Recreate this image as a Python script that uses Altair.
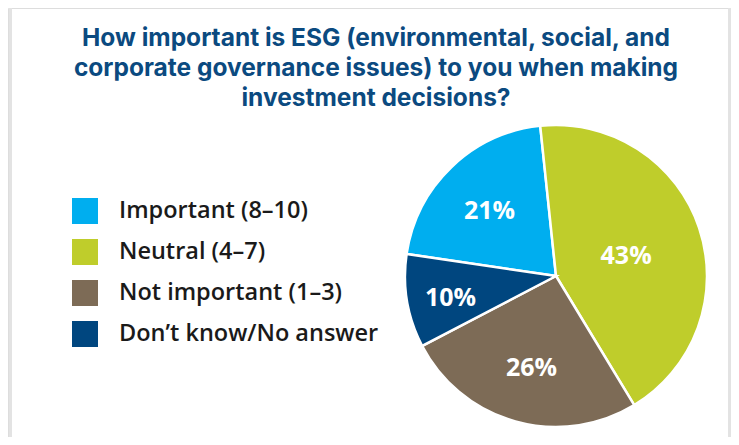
import math
import altair as alt
import pandas as pd

# ---- data ----
categories = ["Important (8–10)", "Neutral (4–7)", "Not important (1–3)", "Don’t know/No answer"]
values = [21, 43, 26, 10]
pie_order = [4, 1, 2, 3]          # clockwise order of the slices, starting near 12 o'clock
colors = ["#00aeef", "#bfcd2b", "#7d6b56", "#00467f"]
title_lines = [
    "How important is ESG (environmental, social, and",
    "corporate governance issues) to you when making",
    "investment decisions?",
]

df = pd.DataFrame({
    "category": categories,
    "value": values,
    "pie_order": pie_order,
    "label": [f"{v}%" for v in values],
})

W, H = 723, 429
CX, CY = 548, 268
R = 151
start = -6 * math.pi / 180

theta = alt.Theta("value:Q", stack=True, scale=alt.Scale(range=[start, start + 2 * math.pi]))
order = alt.Order("pie_order:Q", sort="ascending")

pie = alt.Chart(df).mark_arc(outerRadius=R, stroke="white", strokeWidth=2.5).encode(
    theta=theta,
    order=order,
    x=alt.value(CX),
    y=alt.value(CY),
    color=alt.Color(
        "category:N",
        scale=alt.Scale(domain=categories, range=colors),
        legend=alt.Legend(
            orient="none", legendX=64, legendY=190, title=None,
            symbolType="square", symbolSize=676, symbolStrokeWidth=0, symbolOpacity=1,
            labelFontSize=23.5, labelFont="Open Sans", labelFontWeight=600,
            labelColor="#1a1a1a", labelOffset=21, rowPadding=15, padding=0,
            labelLimit=400,
        ),
    ),
)

# larger slices carry their label closer to the centre, as in the reference
labels = alt.Chart(df).mark_text(
    font="Open Sans", fontSize=25, fontWeight="bold", color="white",
    align="center", baseline="middle", dy=4,
).encode(
    theta=theta,
    order=order,
    radius=alt.Radius("value:Q", scale=alt.Scale(type="linear", domain=[10, 43], range=[107, 74], zero=False)),
    detail="category:N",
    x=alt.value(CX),
    y=alt.value(CY),
    text="label:N",
)

title = alt.Chart(pd.DataFrame({"t": ["\n".join(title_lines)]})).mark_text(
    font="Inter", fontSize=24.5, fontWeight="bold", color="#0b4a80",
    align="center", baseline="alphabetic", lineBreak="\n", lineHeight=30,
).encode(x=alt.value(368), y=alt.value(37.5), text="t:N")

frame_l = alt.Chart(pd.DataFrame({"a": [0]})).mark_rule(color="#e3e3e3", strokeWidth=3).encode(
    x=alt.value(2.5), y=alt.value(0), y2=alt.value(H))
frame_r = alt.Chart(pd.DataFrame({"a": [0]})).mark_rule(color="#e3e3e3", strokeWidth=3).encode(
    x=alt.value(721.5), y=alt.value(0), y2=alt.value(H))

chart = alt.layer(frame_l, frame_r, pie, labels, title).properties(
    width=W, height=H, autosize=alt.AutoSizeParams(type="none"), padding=0,
).configure_view(stroke=None).configure(background="white")

chart.save("out.html", embed_options={"renderer": "svg", "actions": False})
